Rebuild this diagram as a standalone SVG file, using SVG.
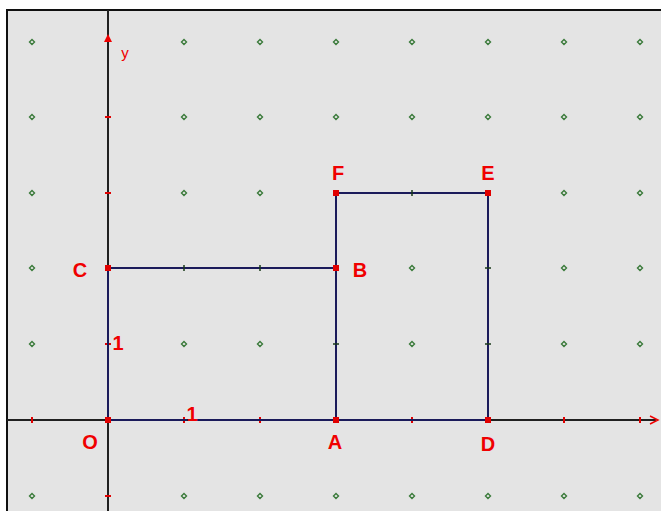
<svg xmlns="http://www.w3.org/2000/svg" width="661" height="511" viewBox="0 0 661 511">
<defs>
<style>
.lbl{font-family:"Liberation Sans",Arial,sans-serif;font-weight:bold;font-size:20px;fill:#f00000;text-anchor:middle}
.axis{stroke:#202020;stroke-width:2;fill:none}
.seg{stroke:#1a1a5a;stroke-width:2;fill:none}
.tk{stroke:#e00000;stroke-width:2}
.stk{stroke:#1a3a1a;stroke-width:1.5}
.pt{fill:#e00000}
</style>
<g id="gd"><path d="M0 -2.5L2.5 0L0 2.5L-2.5 0Z" fill="none" stroke="#3a7a3a" stroke-width="1.4"/></g>
</defs>
<rect x="0" y="0" width="661" height="511" fill="#ffffff"/>
<rect x="7" y="10" width="660" height="510" fill="#e4e4e4" stroke="#101010" stroke-width="2"/>
<g id="grid">
<use href="#gd" x="32" y="42"/><use href="#gd" x="184" y="42"/><use href="#gd" x="260" y="42"/><use href="#gd" x="336" y="42"/><use href="#gd" x="412" y="42"/><use href="#gd" x="488" y="42"/><use href="#gd" x="564" y="42"/><use href="#gd" x="640" y="42"/>
<use href="#gd" x="32" y="117"/><use href="#gd" x="184" y="117"/><use href="#gd" x="260" y="117"/><use href="#gd" x="336" y="117"/><use href="#gd" x="412" y="117"/><use href="#gd" x="488" y="117"/><use href="#gd" x="564" y="117"/><use href="#gd" x="640" y="117"/>
<use href="#gd" x="32" y="193"/><use href="#gd" x="184" y="193"/><use href="#gd" x="260" y="193"/><use href="#gd" x="564" y="193"/><use href="#gd" x="640" y="193"/>
<use href="#gd" x="32" y="268"/><use href="#gd" x="412" y="268"/><use href="#gd" x="564" y="268"/><use href="#gd" x="640" y="268"/>
<use href="#gd" x="32" y="344"/><use href="#gd" x="184" y="344"/><use href="#gd" x="260" y="344"/><use href="#gd" x="412" y="344"/><use href="#gd" x="564" y="344"/><use href="#gd" x="640" y="344"/>
<use href="#gd" x="32" y="496"/><use href="#gd" x="184" y="496"/><use href="#gd" x="260" y="496"/><use href="#gd" x="336" y="496"/><use href="#gd" x="412" y="496"/><use href="#gd" x="488" y="496"/><use href="#gd" x="564" y="496"/><use href="#gd" x="640" y="496"/>
</g>
<g id="axes">
<line class="axis" x1="7" y1="420" x2="656" y2="420"/>
<line class="axis" x1="108" y1="10" x2="108" y2="511"/>
<path d="M104 42H112L108 34Z" fill="#f00000"/>
<path d="M650 416L658 420L650 424" stroke="#f00000" stroke-width="1.5" fill="none"/>
<line class="tk" x1="32" y1="417" x2="32" y2="423"/>
<line class="tk" x1="260" y1="417" x2="260" y2="423"/>
<line class="tk" x1="412" y1="417" x2="412" y2="423"/>
<line class="tk" x1="564" y1="417" x2="564" y2="423"/>
<line class="tk" x1="640" y1="417" x2="640" y2="423"/>
<line class="tk" x1="105" y1="117" x2="111" y2="117"/>
<line class="tk" x1="105" y1="193" x2="111" y2="193"/>
<line class="tk" x1="105" y1="496" x2="111" y2="496"/>
<line class="tk" x1="105" y1="344" x2="111" y2="344"/>
<line class="tk" x1="184" y1="417" x2="184" y2="423"/>
</g>
<g id="connectors">
<path class="seg" d="M108 420H336V268H108Z"/>
<path class="seg" d="M336 420H488V193H336Z"/>
<line class="stk" x1="184" y1="265" x2="184" y2="271"/>
<line class="stk" x1="260" y1="265" x2="260" y2="271"/>
<line class="stk" x1="412" y1="190" x2="412" y2="196"/>
<line class="stk" x1="485" y1="268" x2="491" y2="268"/>
<line class="stk" x1="485" y1="344" x2="491" y2="344"/>
<line class="stk" x1="333" y1="344" x2="339" y2="344"/>
</g>
<g id="O"><rect class="pt" x="105" y="417" width="6" height="6"/><text class="lbl" x="90" y="449">O</text></g>
<g id="A"><rect class="pt" x="333" y="417" width="6" height="6"/><text class="lbl" x="335" y="449">A</text></g>
<g id="D"><rect class="pt" x="485" y="417" width="6" height="6"/><text class="lbl" x="488" y="451">D</text></g>
<g id="B"><rect class="pt" x="333" y="265" width="6" height="6"/><text class="lbl" x="360" y="277">B</text></g>
<g id="C"><rect class="pt" x="105" y="265" width="6" height="6"/><text class="lbl" x="80" y="277">C</text></g>
<g id="F"><rect class="pt" x="333" y="190" width="6" height="6"/><text class="lbl" x="338" y="180">F</text></g>
<g id="E"><rect class="pt" x="485" y="190" width="6" height="6"/><text class="lbl" x="488" y="180">E</text></g>
<text class="lbl" x="118" y="350" font-size="22">1</text>
<text class="lbl" x="192" y="421" font-size="22">1</text>
<text x="125" y="58" font-family="Liberation Sans,Arial,sans-serif" font-size="15" fill="#f00000" text-anchor="middle">y</text>
</svg>
